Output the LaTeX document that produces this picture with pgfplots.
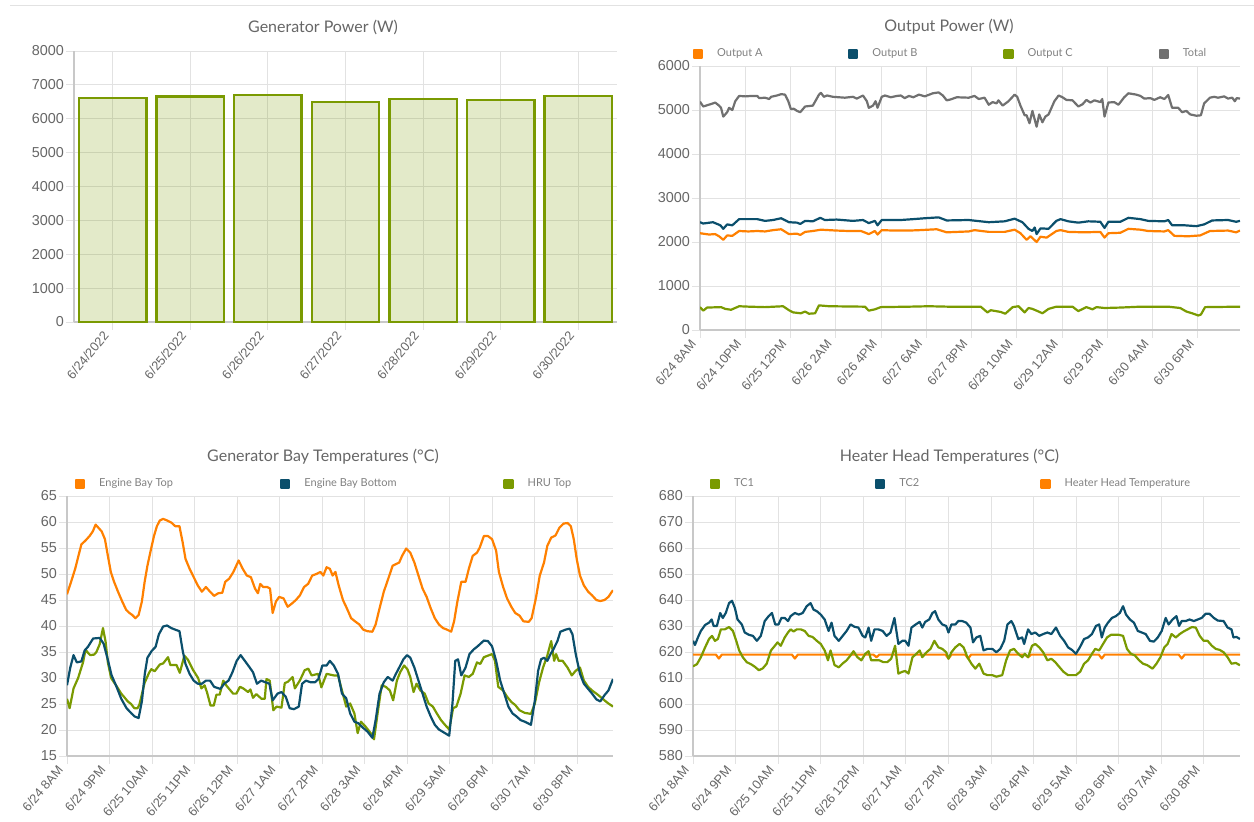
\documentclass[border=0pt]{standalone}
\usepackage{pgfplots}
\pgfplotsset{compat=1.18}
\usepackage{fontspec}
\setmainfont{Lato}
\newfontfamily\tickfont{Liberation Sans}
\definecolor{cOlive}{RGB}{122,154,1}
\definecolor{cBlue}{RGB}{11,79,108}
\definecolor{cOrange}{RGB}{255,128,0}
\definecolor{cGray}{RGB}{112,112,112}
\definecolor{cGrid}{RGB}{226,226,226}
\definecolor{cAxis}{RGB}{200,200,200}
\definecolor{cText}{RGB}{102,102,102}
\definecolor{cLeg}{RGB}{128,128,128}
\pgfplotsset{
 base/.style={scale only axis, anchor=south west,
   axis x line*=bottom, axis y line*=left,
   axis line style={cAxis, line width=0.6pt},
   grid=major, major grid style={cGrid, line width=0.5pt},
   tick align=outside, major tick length=4pt, tick style={cGrid, line width=0.5pt},
   yticklabel style={font=\tickfont\fontsize{7.2}{8}\selectfont, text=cText, xshift=2.5pt},
   xticklabel style={font=\tickfont\fontsize{6.4}{7.5}\selectfont, text=cText, rotate=50, anchor=east, yshift=1.5pt},
   /pgf/number format/assume math mode=true, /pgf/number format/1000 sep={},
   scaled y ticks=false,
   title style={font=\fontsize{8}{9.5}\selectfont, text=cText, anchor=center, at={(0.5,1)}},
 },
 sqleg/.style={legend columns=-1,
   legend image code/.code={\fill[##1] (0pt,-2pt) rectangle (4pt,2pt);},
   legend style={draw=none, fill=none, inner sep=0pt, outer sep=0pt,
     font=\fontsize{5.5}{6.5}\selectfont, text=cLeg, nodes={inner sep=0pt},
     /tikz/every odd column/.append style={column sep=7pt}}},
 ln/.style={line width=1.1pt, line join=round, mark=none},
}
\begin{document}
\begin{tikzpicture}
\path[use as bounding box] (0pt,0pt) rectangle (627pt,410.5pt);
\draw[cGrid, line width=0.5pt] (5pt,407.5pt) -- (627pt,407.5pt);

% ---------- Generator Power ----------
\begin{axis}[base, at={(37pt,249.5pt)}, width=271.5pt, height=135.5pt,
  ymin=0, ymax=8000, ytick distance=1000,
  xmin=-0.5, xmax=6.5, xtick={0,1,2,3,4,5,6},
  xticklabels={6/24/2022,6/25/2022,6/26/2022,6/27/2022,6/28/2022,6/29/2022,6/30/2022},
  ybar, bar width=0.87,
  title={Generator Power (W)}, title style={xshift=-11.25pt, yshift=6pt}]
\addplot[draw=cOlive, fill=cOlive, fill opacity=0.21, draw opacity=1, line width=1.2pt]
 coordinates {(0,6610)(1,6660)(2,6710)(3,6500)(4,6590)(5,6550)(6,6680)};
\end{axis}

% ---------- Output Power ----------
\begin{axis}[base, sqleg, at={(350pt,245.5pt)}, width=270pt, height=132pt,
  ymin=0, ymax=6000, ytick distance=1000,
  xmin=0, xmax=167, xtick={0,14,28,42,56,70,84,98,112,126,140,154},
  xticklabels={6/24 8AM,6/24 10PM,6/25 12PM,6/26 2AM,6/26 4PM,6/27 6AM,6/27 8PM,6/28 10AM,6/29 12AM,6/29 2PM,6/30 4AM,6/30 6PM},
  title={Output Power (W)}, title style={xshift=-10.5pt, yshift=13.5pt},
  legend style={at={(rel axis cs:0,1)}, anchor=west, xshift=-3.5pt, yshift=6pt}]
\addplot[ln, cOrange] coordinates {(0,2200)(2.8,2170)(4.7,2180)(5.9,2130)(7.2,2050)(8.4,2150)(10,2140)(12.1,2250)(15,2240)(17.7,2250)(20.1,2240)(22.6,2270)(25.1,2290)(27.5,2180)(30,2190)(31,2160)(32.5,2230)(34.9,2250)(37.4,2280)(42.3,2260)(46,2250)(49.8,2250)(52.2,2180)(54.1,2250)(54.9,2170)(56.2,2270)(60,2260)(64.6,2260)(68,2270)(73.2,2290)(76.3,2220)(83.1,2240)(84.9,2270)(89.3,2230)(94.2,2230)(97.3,2280)(99.1,2200)(101,2050)(102.2,2130)(104.1,2000)(105.3,2120)(107.2,2100)(110.2,2250)(111.5,2270)(113.9,2230)(118.9,2220)(123.8,2230)(125.1,2100)(126.3,2200)(130,2210)(132.5,2300)(136.2,2280)(138.6,2250)(143.6,2240)(144.8,2270)(146.7,2140)(151,2130)(154.7,2150)(157.7,2250)(163.3,2260)(165.8,2220)(167,2260)};
\addlegendentry{\makebox[65.5pt][l]{Output A}}
\addplot[ln, cBlue] coordinates {(0,2450)(1,2420)(4,2450)(6.3,2380)(7.2,2300)(8.4,2400)(10,2380)(12.1,2520)(17.7,2520)(20.1,2480)(22.6,2500)(25.1,2540)(27.5,2450)(30,2440)(31,2410)(32.5,2480)(34.9,2470)(37.2,2550)(38.6,2500)(42.3,2510)(47.3,2480)(50.4,2500)(52.2,2430)(54.1,2480)(54.9,2380)(56.2,2500)(62.1,2500)(66,2520)(69.5,2540)(73.8,2560)(76.3,2490)(83.1,2500)(86.8,2470)(89.3,2450)(94.2,2470)(97.3,2530)(99.7,2450)(101.6,2300)(102.8,2250)(103.5,2330)(104.1,2180)(105.3,2310)(107.8,2300)(110.2,2480)(111.5,2520)(113.9,2470)(117,2440)(120.1,2470)(123.8,2460)(125.1,2320)(126.3,2460)(130,2460)(132.5,2550)(136.2,2520)(138.6,2480)(143.6,2470)(144.8,2500)(146,2380)(149.8,2380)(153.5,2360)(155.9,2400)(158.4,2490)(163.3,2500)(165.8,2460)(167,2480)};
\addlegendentry{\makebox[65.5pt][l]{Output B}}
\addplot[ln, cOlive] coordinates {(0,520)(1,440)(2.2,510)(6.5,520)(7.8,480)(9.6,460)(12.1,540)(15.2,530)(20.1,520)(25.7,540)(27.5,450)(28.8,400)(31.2,380)(32.5,420)(33.7,370)(35.6,380)(36.8,560)(39.9,540)(51,530)(52.2,440)(54.1,470)(55.9,520)(64.6,530)(70.7,540)(76.9,530)(86.8,530)(88.9,400)(89.9,450)(93,410)(94.4,370)(96.7,520)(98.5,540)(100.4,400)(101.6,500)(102.8,480)(104.7,420)(105.9,380)(107.8,480)(110.2,530)(115.2,530)(117,430)(119.5,520)(121.4,470)(122.6,520)(125.1,500)(130,510)(136.2,530)(144.8,530)(148.5,500)(150.4,420)(152.2,380)(154.1,330)(154.9,350)(156.2,520)(167,530)};
\addlegendentry{\makebox[65.5pt][l]{Output C}}
\addplot[ln, cGray] coordinates {(0,5190)(1,5080)(4,5150)(4.7,5170)(5.9,5100)(6.5,5050)(7.2,4850)(8.4,4950)(9,5050)(10,5000)(10.9,5200)(12.1,5320)(14,5310)(16,5320)(17.7,5320)(18.3,5270)(20.1,5280)(21.4,5250)(22,5300)(23.8,5330)(25.1,5360)(26.3,5350)(27.3,5200)(28.1,5020)(29,5030)(30,4980)(31,4950)(32.5,5080)(34.9,5100)(36.8,5350)(37.4,5390)(38.3,5300)(39.3,5330)(41.1,5300)(44.8,5280)(47.3,5300)(48.5,5260)(50.4,5330)(51.6,5200)(52.2,5050)(53.5,5100)(54.3,5200)(54.9,5050)(56.2,5300)(57.2,5330)(59,5290)(60.9,5320)(62.1,5330)(63.3,5270)(64.6,5320)(66,5290)(67.7,5350)(69.5,5310)(72,5380)(73.8,5400)(75.1,5330)(76.3,5220)(77.5,5240)(79.4,5290)(83.1,5280)(84.9,5320)(86.2,5250)(88,5280)(89.3,5120)(90.5,5180)(91.7,5150)(92.3,5220)(93.6,5100)(95.4,5200)(97.3,5350)(98.1,5300)(99.1,5100)(100.4,4880)(101,4880)(101.9,4700)(102.8,4980)(104.1,4620)(104.9,4900)(105.9,4720)(106.8,4850)(107.8,4900)(108.4,5000)(109.6,5200)(110.9,5330)(112.1,5290)(113.3,5230)(115.2,5220)(117,5080)(118.3,5130)(119.5,5230)(120.7,5170)(122,5220)(123.8,5180)(124.4,5250)(125.1,4850)(126.3,5170)(128.1,5180)(129.4,5120)(131.2,5290)(132.5,5380)(134.9,5350)(136.2,5320)(137.4,5260)(139.3,5270)(140.5,5230)(142.3,5290)(143.6,5250)(144.8,5340)(146,5050)(147.9,5050)(149.1,4950)(150.4,4980)(151.6,4900)(153.5,4870)(154.9,4880)(155.9,5150)(157.7,5280)(159,5300)(160.2,5280)(162.1,5310)(163.3,5260)(164.6,5280)(165.4,5200)(166,5270)(167,5260)};
\addlegendentry{Total}
\end{axis}

% ---------- Generator Bay Temperatures ----------
\begin{axis}[base, sqleg, at={(33.5pt,32.5pt)}, width=273pt, height=130pt,
  ymin=15, ymax=65, ytick distance=5,
  xmin=0, xmax=167, xtick={0,13,26,39,52,65,78,91,104,117,130,143,156},
  xticklabels={6/24 8AM,6/24 9PM,6/25 10AM,6/25 11PM,6/26 12PM,6/27 1AM,6/27 2PM,6/28 3AM,6/28 4PM,6/29 5AM,6/29 6PM,6/30 7AM,6/30 8PM},
  title={Generator Bay Temperatures (°C)}, title style={xshift=-8.5pt, yshift=13.5pt},
  reverse legend,
  legend style={at={(rel axis cs:0,1)}, anchor=west, xshift=4pt, yshift=6pt}]
\addplot[ln, cOlive] coordinates {(0,26)(0.8,24.2)(2,28)(3.4,30)(4.9,33)(5.7,35.5)(6.2,35)(7.1,34.4)(8.3,34.5)(9,35)(10,36.5)(11,39.6)(11.8,37)(12.5,33)(13.5,30)(15.1,28.5)(16.6,27)(18.6,25.5)(19.6,25)(20.6,24.2)(21.6,24.2)(22.2,25)(23.7,29)(25.1,31)(25.8,31.7)(26.8,31.3)(28.4,32.6)(29.4,32.8)(30.9,34)(31.6,32.5)(33.5,32.5)(34.5,31)(35.9,34.3)(37,33.5)(38.6,31.5)(40.1,30)(41.1,28)(42.1,28.6)(42.8,27.3)(43.9,24.7)(44.9,24.7)(45.7,26.8)(46.7,26.8)(47.8,29.5)(48.8,28.5)(50.8,27)(51.8,27)(52.9,28.3)(53.9,28)(55.4,27.3)(56.1,27.8)(56.9,26.2)(57.9,26.9)(59.5,26)(60.5,26)(61,29.8)(62,29.5)(63.1,23.8)(64.1,24.5)(65.6,24.3)(66.6,29)(67.6,29.3)(69,30.2)(69.7,28)(71.2,29.5)(72.7,31.5)(73.8,31.8)(74.8,30.5)(76.8,30.8)(77.8,28.2)(79.4,30.8)(81.6,30.5)(82.9,30.5)(84.1,27.6)(85.4,24.5)(86.6,25.1)(87.9,23.2)(88.9,19.4)(89.9,21.6)(91.25,20.7)(92.9,19.4)(93.9,18.2)(95,23.2)(96.25,28.6)(97.5,28.3)(98.75,27.6)(99.75,25.7)(100.9,29.5)(101.9,31.1)(103.1,32.4)(104.1,31.7)(105,30.2)(106,27.3)(106.9,28.9)(108.1,27.6)(109.4,27)(110.6,25.1)(111.9,24.5)(113.1,23.2)(114.4,21.9)(115.6,21)(116.9,20.1)(118.1,24.2)(119.1,24.5)(120.4,27)(121.6,30.5)(122.9,30.2)(124.1,30.8)(125.4,33)(126.4,32.7)(127.5,34)(128.75,34.3)(130,34.6)(130.9,33.3)(131.9,28.3)(133.4,27.6)(134.6,26.4)(135.9,25.4)(137.1,24.8)(138.4,23.8)(140,23.3)(141.9,23.1)(143.1,25.1)(144.4,29.2)(145.6,32)(146.9,34.3)(148.1,37.1)(149,33.3)(149.6,34.6)(150.4,33.3)(151.6,33.3)(153.1,32)(154.4,30.5)(155.6,31.4)(156.9,32)(158.1,29.5)(159.4,28.3)(160.6,27.6)(161.9,27)(163.1,26.4)(164.4,25.7)(165.6,25.1)(167,24.5)};
\addlegendentry{HRU Top}
\addplot[ln, cBlue] coordinates {(0,28.6)(1,32)(2,34.4)(3,33)(4.4,33.2)(5.4,35.3)(6.4,36)(8,37.6)(10,37.7)(11.2,36.6)(12.5,33.5)(13.6,30.6)(15.1,28.4)(16.6,26)(18.2,24.2)(19.7,23.2)(20.7,22.6)(21.9,22.3)(22.9,25.5)(23.8,30.8)(24.6,33.9)(25.9,35.2)(27.1,36)(28.1,38.4)(29.4,39.9)(30.6,40.1)(31.9,39.6)(33.1,39.3)(34.4,39)(35.4,35.2)(36.25,32.7)(37.5,30.8)(38.75,29.5)(40,28.9)(41.25,28.9)(42.5,29.5)(43.75,29.5)(45,28.3)(46.9,27.9)(48.1,28.9)(49.4,29.5)(50.6,31.1)(51.9,33.3)(53.1,34.4)(54.4,33.3)(55.9,32)(56.9,31.1)(58.1,28.9)(59.4,29.5)(60.6,29.2)(61.9,28.9)(62.9,25.7)(64.4,27)(65.6,27.3)(66.9,26.4)(68.1,24.2)(69.4,24)(70.9,24.5)(71.9,28.9)(73.1,29.5)(74.4,29.2)(75.9,29.2)(76.9,29.8)(78.1,32.4)(79.4,32.4)(80.4,33.3)(81.6,32.4)(82.9,30.8)(84.1,27)(85.4,26.1)(86.6,23.2)(87.9,21.6)(89.1,21.3)(90.6,20.4)(91.9,19.7)(93.4,18.5)(94.4,21.9)(95.6,27)(96.9,29.2)(98.1,30.2)(99.6,29.5)(100.6,30.8)(101.6,32)(102.9,33.6)(104,34.4)(105,33.9)(106.25,32)(107.5,29.5)(108.75,27)(110,24.5)(111.25,22.6)(112.5,21)(113.75,20.1)(115.6,19.4)(116.9,18.9)(117.9,25.1)(118.75,33.3)(119.6,33.6)(120.6,30.5)(121.9,32)(123.1,34.6)(124.4,35.5)(125.6,36.1)(127.5,37.2)(128.75,37.1)(130,36.1)(131.25,33.3)(132.5,29.5)(133.75,27)(135,24.5)(136.25,23.2)(137.5,22.6)(138.75,21.9)(140,21.6)(141.9,21)(143.1,25.7)(144.1,31.4)(145,33.6)(145.9,33.9)(146.9,33.3)(147.9,34.6)(148.75,35.5)(150,37.1)(150.9,38.9)(152.5,39.3)(153.75,39.5)(154.6,38.4)(155.6,34.6)(156.9,30.8)(158.1,28.9)(159.4,27.9)(160.6,27)(161.9,25.9)(163.1,25.5)(164.4,26.7)(165.6,27.6)(167,29.8)};
\addlegendentry{\makebox[99.5pt][l]{Engine Bay Bottom}}
\addplot[ln, cOrange] coordinates {(0,46.1)(1.25,48.5)(2.5,51)(3.75,54.1)(4.4,55.7)(5.6,56.4)(6.9,57.3)(7.9,58.2)(8.75,59.5)(9.6,58.9)(10.6,58.2)(11.6,56.7)(12.5,53.5)(13.4,50.4)(14.4,48.5)(15.6,46.6)(16.9,44.7)(18.1,43.1)(19.1,42.5)(20,42.1)(20.9,41.5)(21.9,42.1)(22.9,44.7)(23.75,48.5)(24.6,51.6)(25.6,54.5)(26.6,57.3)(27.5,59.2)(28.4,60.3)(29.4,60.6)(30.6,60.3)(31.9,59.9)(33.1,59.2)(34.4,59.2)(35.4,56)(36.25,52.9)(37.5,51)(38.75,49.4)(40,47.8)(41.25,46.6)(42.5,47.5)(43.75,46.6)(45,45.8)(46.25,46.3)(47.5,46.4)(48.4,48.5)(49.6,49.1)(50.9,50.4)(52.5,52.6)(53.75,51)(55,49.7)(56.25,49.4)(57.5,47.2)(58.4,46.3)(59.1,48.1)(60,47.5)(61.25,47.5)(62.1,47.2)(62.9,42.5)(63.9,44.7)(64.9,45.6)(66.25,45.3)(67.5,43.7)(68.75,44.3)(70,45)(71.25,45.9)(72.5,47.5)(73.75,48.1)(75,49.7)(76.25,50)(77.5,50.4)(78.4,49.7)(79.4,51.3)(80.4,51)(81.25,49.7)(82.1,50.4)(83.1,47.8)(84.4,45)(85.6,43.4)(86.9,41.5)(88.1,40.9)(89.4,40.3)(90.6,39.3)(91.9,39)(93.4,38.9)(94.4,40.3)(95.6,43.4)(96.9,46.6)(98.1,48.8)(99.6,51.6)(100.6,51.9)(101.6,52.2)(102.5,53.5)(103.75,54.9)(105,54.1)(106.25,52.2)(107.5,49.7)(108.75,47.2)(110,45.6)(111.25,43.4)(112.5,41.5)(113.75,40.3)(115,39.6)(116.25,39.3)(117.5,38.9)(118.4,40.9)(119.4,44.7)(120.6,48.5)(121.9,48.5)(122.9,51)(124.1,53.5)(125.4,54.1)(126.25,55.1)(127.5,57.3)(128.75,57.3)(130,56.7)(131.25,54.5)(132.1,50.4)(133.4,47.5)(134.6,45.3)(135.9,43.7)(137.1,42.5)(138.4,42)(139.6,40.9)(141.25,40.8)(142.1,41.5)(143.4,45.3)(144.6,49.7)(145.9,52.2)(146.9,55.4)(148.1,57)(149.4,57.4)(150.6,58.9)(151.9,59.7)(153.1,59.8)(154.1,59.2)(155,56.7)(155.9,52.9)(156.9,49.7)(158.1,47.8)(159.4,46.6)(160.6,45.9)(161.9,45)(163.1,44.8)(164.4,45)(165.6,45.6)(167,46.9)};
\addlegendentry{\makebox[90.5pt][l]{Engine Bay Top}}
\end{axis}

% ---------- Heater Head Temperatures ----------
\begin{axis}[base, sqleg, at={(346.5pt,32.5pt)}, width=273.5pt, height=130pt,
  ymin=580, ymax=680, ytick distance=10,
  xmin=0, xmax=167, xtick={0,13,26,39,52,65,78,91,104,117,130,143,156},
  xticklabels={6/24 8AM,6/24 9PM,6/25 10AM,6/25 11PM,6/26 12PM,6/27 1AM,6/27 2PM,6/28 3AM,6/28 4PM,6/29 5AM,6/29 6PM,6/30 7AM,6/30 8PM},
  title={Heater Head Temperatures (°C)}, title style={xshift=-8.5pt, yshift=13.5pt},
  reverse legend,
  legend style={at={(rel axis cs:0,1)}, anchor=west, xshift=8.5pt, yshift=6pt}]
\addplot[ln, cOrange] coordinates {(0,619)(7,619)(7.9,617.5)(8.8,619)(30.2,619)(31.1,617.5)(32,619)(55.1,619)(56,618)(56.9,619)(77.1,619)(78,617.5)(78.9,619)(83.1,619)(84,617.5)(84.9,619)(101.4,619)(102.3,618)(103.2,619)(123.9,619)(124.8,617.5)(125.7,619)(148.3,619)(149.2,617.5)(150.1,619)(167,619)};
\addlegendentry{Heater Head Temperature}
\addplot[ln, cBlue] coordinates {(0,624.3)(0.6,622.7)(1.5,625.6)(2.4,628.1)(3.7,630.4)(4.9,631.3)(5.7,632.5)(6.3,630)(7.3,630)(8.3,635)(9.1,633.1)(10,635)(11,638.8)(11.9,639.7)(12.8,636.9)(13.6,632.5)(14.9,630.6)(15.8,627.5)(17.1,626.6)(18.3,626.2)(19.5,624.3)(20.7,626.2)(21.9,631.9)(23.1,633.8)(24.1,635)(25.1,630.6)(26.1,630.6)(27,633.1)(28,633.1)(29,631.9)(29.8,633.8)(31.1,635)(32.3,634.4)(33.5,635)(34.7,637.6)(35.9,638.8)(36.8,636.3)(37.8,635.7)(39,634.4)(40.2,632.5)(41.4,628.1)(42.3,631.3)(43.2,626.2)(44.5,624.3)(45.7,626.2)(46.9,628.1)(48.1,630.6)(49.3,629.7)(50.5,629.4)(51.8,626.2)(52.6,625.6)(53.6,629.4)(54.4,624.3)(55.4,628.7)(56.6,628.7)(57.9,628.1)(59.1,626.2)(60.3,627.5)(61.5,633.1)(62.7,623.1)(63.9,624.3)(64.8,624.3)(65.8,622.4)(66.7,629.4)(68,630.6)(69.2,631.6)(70,629.4)(70.9,631.6)(72.1,632.5)(73.1,635)(73.9,635.7)(74.9,632.5)(76.1,630.6)(77.3,630)(78,627.5)(78.9,630.6)(80.1,630.6)(81,631.9)(82.2,631.9)(83.4,631.3)(84.7,629.4)(85.5,623.7)(86.5,625.6)(87.7,626.2)(88.7,620.6)(89.9,621.2)(91.4,621.2)(92.6,619.9)(93.8,621.2)(95,624.3)(96,630.6)(97.2,631.9)(98,630)(99.3,625)(100.5,625.6)(101.1,623.1)(102.3,628.7)(103.3,626.9)(104.5,627.5)(105.7,626.2)(106.9,626.9)(108.2,627.5)(109.4,626.9)(110.8,629.4)(112.1,626.2)(113.3,624.3)(114.5,621.8)(115.7,620.8)(116.9,619.3)(118.1,621.8)(119.4,625)(120.6,625.6)(121.8,626.9)(123,630)(124,630.6)(124.8,625.6)(125.7,629.4)(126.7,631.3)(127.9,633.1)(129.1,633.8)(130.3,635)(131.3,637.6)(132.2,634.4)(133.4,632.5)(134.6,631.3)(135.8,628.1)(137,627.5)(138.2,626.9)(139.5,624.3)(140.7,624)(141.9,625.6)(143.1,628.1)(144.3,633.1)(145.2,630.6)(146.4,632.5)(147.6,633.8)(148.4,630)(149.2,631.9)(150.4,631.9)(151.6,632.5)(152.9,631.9)(154.1,632.5)(155.3,633.1)(156.5,634.7)(157.7,634.7)(159,633.1)(160.2,632.1)(162,631.9)(163.2,629.4)(164.4,628.7)(165,625.6)(165.9,625.8)(167,625)};
\addlegendentry{\makebox[70.5pt][l]{TC2}}
\addplot[ln, cOlive] coordinates {(0,614.5)(1.2,615.3)(2.4,618)(3.7,621.8)(4.9,625)(5.8,626.2)(6.7,624.3)(7.6,625)(8.5,628.7)(9.7,628.7)(11,629.6)(12.2,628.1)(13.2,624.3)(14.1,620.6)(15.2,618)(16.4,616.1)(17.7,615.3)(18.9,614.3)(20.1,613)(21.3,613.7)(22.5,615.5)(23.8,620.6)(25,622.4)(25.8,623.7)(26.8,622.4)(28,625.6)(29,627.5)(29.8,628.7)(30.7,627.9)(31.7,628.7)(32.9,628.7)(34.1,628.1)(35.3,626.2)(36.5,625.8)(37.8,624.3)(39,623.1)(40.2,620.6)(41.2,616.8)(42,620.6)(43.2,615)(44.5,614.1)(45.7,615.6)(46.9,616.8)(48.1,618.7)(49,620.3)(50.2,618)(51.4,616.8)(52.6,619.3)(53.6,620.3)(54.4,616.8)(55.7,616.8)(56.9,616.8)(58.1,616.1)(59.3,616.1)(60.5,617.4)(61.7,622.4)(62.7,611.7)(63.9,612.4)(64.8,612.7)(65.8,611.7)(67,618)(68.2,619.3)(69.2,620.6)(70,618)(71.3,619.9)(72.5,621.2)(73.7,624.3)(74.9,621.8)(76.1,621.2)(77.3,619.9)(78,617.4)(78.9,619.9)(80.1,621.8)(81.4,623.1)(82.6,621.8)(83.8,618)(85,615.5)(86.2,613.6)(87.4,615.5)(88.7,611.7)(89.9,611.1)(91.4,611.1)(92.6,610.5)(94.4,611.1)(95.6,616.8)(96.8,620.6)(98,621.2)(99.3,619.3)(100.5,618)(101.3,619.3)(102.3,618)(103.5,622.4)(104.5,623.1)(105.7,621.8)(106.9,619.9)(108.2,616.8)(109.4,617.4)(110.6,616.1)(111.8,614.3)(113.1,612.4)(114.5,611.1)(115.7,611.1)(116.9,611.1)(118.2,612.4)(119.4,615.5)(120.6,616.8)(121.8,619.3)(122.8,621.2)(124,620.6)(125.2,623.1)(126.4,625.6)(127.6,626.6)(129.1,626.6)(130.1,626.6)(131.3,626.2)(132.5,621.2)(133.7,619.3)(134.9,618.7)(136.2,616.8)(137.4,615.5)(138.6,615)(140.3,613.6)(141.5,615.5)(142.7,618)(143.9,621.8)(144.9,623.1)(146.1,626.9)(147.4,625.6)(148.6,626.9)(149.8,627.9)(151,628.7)(152.3,629.6)(153.5,629.4)(154.7,626.2)(155.9,624.3)(157.1,624.3)(158.4,622.4)(159.6,621.2)(160.8,620.8)(162,619.9)(163.2,618)(164.4,615.5)(165.7,615.8)(167,614.9)};
\addlegendentry{\makebox[70.5pt][l]{TC1}}
\end{axis}
\end{tikzpicture}
\end{document}
